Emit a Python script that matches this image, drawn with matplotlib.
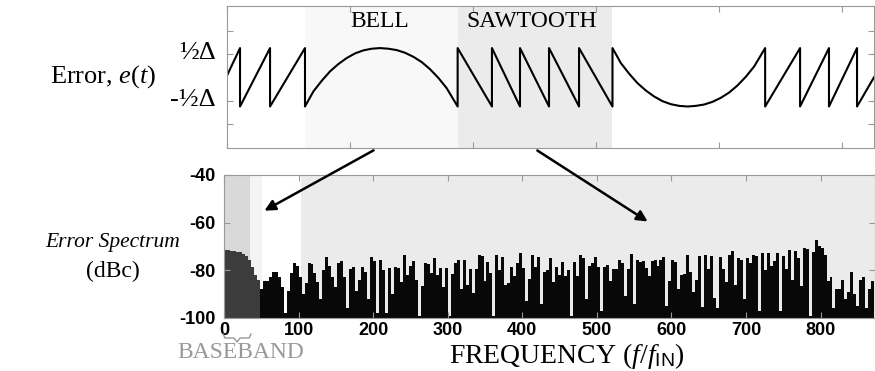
""" Import Required Libraries """
import numpy as np
import matplotlib
matplotlib.use("Agg")
import matplotlib.pyplot as plt
from matplotlib.patches import FancyArrowPatch
from matplotlib.lines import Line2D

plt.rcParams['font.family'] = ['Liberation Serif', 'DejaVu Serif']
plt.rcParams['mathtext.fontset'] = 'custom'
plt.rcParams['mathtext.rm'] = 'Liberation Serif'
plt.rcParams['mathtext.it'] = 'Liberation Serif:italic'
plt.rcParams['mathtext.sf'] = 'Liberation Sans'
plt.rcParams['axes.unicode_minus'] = False

""" Error waveform (time in tick units, error in units of Delta) """
saw_up_t = [0.0, 0.106, 0.106, 0.350, 0.350, 0.634, 0.634]
saw_up_e = [0.03, 0.5, -0.5, 0.5, -0.5, 0.5, -0.5]

bell_dt = [0.0, 0.068, 0.136, 0.203, 0.271, 0.339, 0.407, 0.474, 0.542, 0.610,
           0.678, 0.745, 0.813, 0.881, 0.949, 1.016, 1.084, 1.152, 1.241]
bell_e = [-0.5, -0.243, -0.06, 0.10, 0.226, 0.329, 0.409, 0.46, 0.489, 0.5,
          0.489, 0.466, 0.42, 0.351, 0.26, 0.14, -0.009, -0.186, -0.5]
bell_start = 0.634

saw_down_t = [1.875, 2.154, 2.154, 2.382, 2.382, 2.618, 2.618, 2.862, 2.862, 3.134, 3.134]
saw_down_e = [0.5, -0.5, 0.5, -0.5, 0.5, -0.5, 0.5, -0.5, 0.5, -0.5, 0.5]

trough_start = 3.134

saw_end_t = [4.375, 4.659, 4.659, 4.894, 4.894, 5.122, 5.122, 5.26]
saw_end_e = [-0.5, 0.5, -0.5, 0.5, -0.5, 0.5, -0.5, 0.0]

bell_span = [0.634, 1.875]
saw_span = [1.875, 3.134]

""" Error spectrum (dBc), one value per 4 f/fIN """
bin_w = 4
spec_f = np.arange(0, 872, bin_w)
spec_db = [
    -71.5, -71.5, -71.8, -72, -72.3, -72.5, -73, -74, -75.5, -78.5, -82, -84, -88,
    -84.5, -84.5, -83, -80.5, -80.5, -83, -87, -98, -88.5, -81, -77, -78, -83, -90,
    -85.5, -77, -77.5, -81, -85, -92, -80, -74.5, -78, -83,
    -87, -77, -76.2, -83, -96, -79.5, -78.5, -88.5, -84, -78.5, -80.5, -92, -74.5,
    -76, -98, -75.5, -80, -98, -79, -90, -78.5, -79, -85, -73.5, -82, -78, -76, -84,
    -99, -86.5, -77, -77.5, -81, -75, -82, -79, -87,
    -79, -99, -81.5, -77, -75.5, -88, -75.5, -86, -79.5, -89.5, -79.5, -73.5, -74,
    -84.5, -76.5, -81, -99, -73.5, -80, -74.5, -86, -85.5, -78.5, -82.5, -77, -72.7,
    -79, -93, -83.5, -73.5, -78.5, -74.5, -94, -80.5, -80, -75, -85,
    -78.5, -82, -76.3, -82.5, -80, -99, -76.3, -82.5, -73.5, -75, -92, -78, -77,
    -74.2, -78.5, -97, -78.5, -77.6, -84.5, -79.6, -79.5, -75.5, -77, -90.7, -79.5,
    -73, -94, -75.5, -76.5, -76, -79, -82.5, -76, -75.5, -78, -75.5, -74.5,
    -95, -84.5, -75.5, -76.5, -88, -82, -81.5, -73.5, -80.5, -89, -84, -74, -95.5,
    -73.5, -79.5, -74, -91.5, -96, -74.3, -79.5, -85, -73.5, -72, -86, -75, -75.5,
    -92, -75, -77, -73.5, -74, -97, -72.8, -80, -72.8, -78, -76,
    -72.8, -97, -74, -79.5, -71.3, -84, -72, -75, -86.5, -70.8, -71, -99, -72.5,
    -67.2, -70, -70.8, -73.5, -84.5, -83, -96, -88, -88, -84, -92, -89, -80.5, -90,
    -95, -84, -83, -96, -88, -84.5,
]
baseband_edge = 35
guard_edge = 51
noise_edge = 103
gray_bins = 12   # bins drawn in grey inside the baseband/guard region

""" Build waveform """
bell_t = [bell_start + d for d in bell_dt]
trough_t = [trough_start + d for d in bell_dt]
trough_e = [-v for v in bell_e]
wave_t = saw_up_t + bell_t + saw_down_t + trough_t + saw_end_t
wave_e = saw_up_e + bell_e + saw_down_e + trough_e + saw_end_e

W, H = 875, 371
fig = plt.figure(figsize=(W / 100, H / 100), dpi=100)

def fx(px):
    return px / W

def fy(py):
    return 1 - py / H

""" Top panel: e(t) """
ax1 = fig.add_axes([fx(227), fy(148), (874 - 227) / W, 142 / H])
ax1.axvspan(*bell_span, color='#f8f8f8', lw=0)
ax1.axvspan(*saw_span, color='#ebebeb', lw=0)
ax1.plot(wave_t, wave_e, color='black', lw=1.5)
ax1.set_xlim(0, 5.26)
ax1.set_ylim(-1.21, 1.22)
ax1.set_xticks(range(6))
ax1.set_yticks([-0.8, -0.4, 0.4, 0.8])
ax1.tick_params(direction='in', length=4, color='#999999', top=True, right=True,
                labelbottom=False, labelleft=False)
for s in ax1.spines.values():
    s.set_color('#999999')

ax1.text(1.244, 1.13, 'BELL', ha='center', va='top', size=17)
ax1.text(2.48, 1.13, 'SAWTOOTH', ha='center', va='top', size=17)

fig.text(fx(103), fy(77), r'Error, $\mathit{e(t)}$', ha='center', va='center', size=19)
fig.text(fx(216), fy(53), '½Δ', ha='right', va='center', size=19)
fig.text(fx(216), fy(100), '-½Δ', ha='right', va='center', size=19)

""" Bottom panel: spectrum """
ax2 = fig.add_axes([fx(224), fy(318), (875 - 224) / W, 143 / H])
ax2.axvspan(0, baseband_edge, color='#d9d9d9', lw=0)
ax2.axvspan(baseband_edge, guard_edge, color='#f4f4f4', lw=0)
ax2.axvspan(noise_edge, 873, color='#ebebeb', lw=0)
edges = np.append(spec_f, spec_f[-1] + bin_w)
ax2.stairs(spec_db[:gray_bins], edges[:gray_bins + 1], baseline=-100, fill=True,
           color='#3c3c3c', lw=0)
ax2.stairs(spec_db[gray_bins:], edges[gray_bins:], baseline=-100, fill=True,
           color='#080808', lw=0)
ax2.set_xlim(0, 873)
ax2.set_ylim(-100, -40)
ax2.set_xticks(range(0, 900, 100))
ax2.set_yticks([-100, -80, -60, -40])
ax2.tick_params(direction='in', length=4, color='#999999', top=True, right=True)
ax2.tick_params(axis='x', pad=3)
ax2.tick_params(axis='y', pad=6)
for lab in ax2.get_xticklabels() + ax2.get_yticklabels():
    lab.set_family('Liberation Sans')
    lab.set_weight('bold')
    lab.set_size(13)
for s in ax2.spines.values():
    s.set_color('#999999')
    s.set_zorder(3)

fig.text(fx(113), fy(243), 'Error Spectrum', ha='center', va='center', size=15.5, style='italic')
fig.text(fx(113), fy(271), '(dBc)', ha='center', va='center', size=17)
fig.text(fx(241), fy(353), 'BASEBAND', ha='center', va='center', size=17, color='#999999')
fig.text(fx(567), fy(356), r'FREQUENCY $(f/f_{\mathsf{IN}})$', ha='center', va='center', size=20)

""" Baseband brace """
bx = [223, 225, 234, 237, 240, 249, 251]
by = [334, 338, 338, 342, 338, 338, 334]
fig.add_artist(Line2D([fx(v) for v in bx], [fy(v) for v in by], color='#999999', lw=1))

""" Arrows between panels """
for start, end in [((376, 149), (262, 212)), ((535, 149), (650, 223))]:
    fig.add_artist(FancyArrowPatch((fx(start[0]), fy(start[1])), (fx(end[0]), fy(end[1])),
                                   transform=fig.transFigure, arrowstyle='-|>',
                                   mutation_scale=16, lw=1.8, color='black'))

fig.savefig('out.png', dpi=100)
